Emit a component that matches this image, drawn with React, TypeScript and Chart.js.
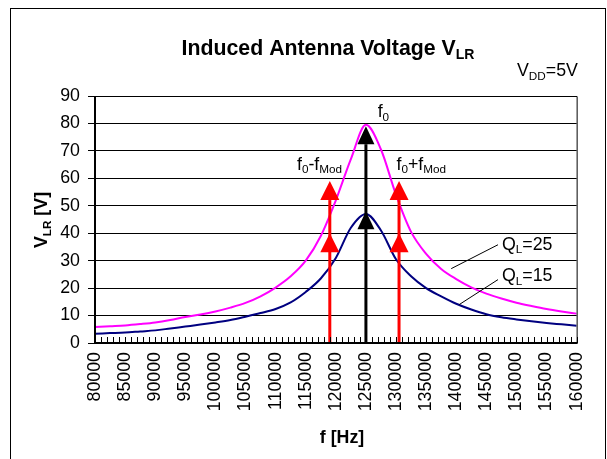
import React, { useEffect, useRef } from 'react';
import { Chart, registerables } from 'chart.js';

Chart.register(...registerables);

// ---- data ----
const freqs = [80000, 82500, 85000, 87500, 90000, 92500, 95000, 97500, 100000, 102500, 105000, 107500, 110000, 112500, 115000, 117500, 120000, 122500, 125000, 127500, 130000, 132500, 135000, 137500, 140000, 142500, 145000, 147500, 150000, 152500, 155000, 157500, 160000];
const voltQ25 = [5.8, 6.1, 6.4, 6.9, 7.5, 8.4, 9.5, 10.4, 11.5, 12.9, 14.6, 17.0, 20.2, 24.3, 30, 39, 52, 67, 79.5, 70.5, 54, 40.5, 32.5, 27, 23.3, 20.3, 18, 16.2, 14.7, 13.5, 12.4, 11.5, 10.7];
const voltQ15 = [3.4, 3.6, 3.8, 4.2, 4.6, 5.3, 6.0, 6.7, 7.5, 8.4, 9.6, 10.9, 12.4, 14.8, 18.6, 23.5, 31, 42, 47, 41, 30.5, 24.3, 20, 17, 14.3, 12.2, 10.5, 9.4, 8.6, 7.9, 7.3, 6.8, 6.3];

const sidebandFreqs = [119000, 130500];
const sidebandTips = [59, 40];
const carrierFreqs = [125000];
const carrierTips = [79, 48];

const yTicksMin = 0;
const yTicksMax = 90;
const yStep = 10;
const xMin = 80000;
const xMax = 160000;
const xLabelStep = 5000;
const xMinorStep = 1000;

const FAM = "'Liberation Sans', Arial, Helvetica, sans-serif";
const F10 = 17.8;
const F12 = 21.3;

type Part = { t: string; sub?: boolean };

function drawRich(ctx: CanvasRenderingContext2D, parts: Part[], x: number, yCenter: number, size: number, bold: boolean, align: 'left' | 'center') {
  const main = `${bold ? 'bold ' : ''}${size}px ${FAM}`;
  const subSize = size * 0.66;
  const sub = `${bold ? 'bold ' : ''}${subSize}px ${FAM}`;
  const base = yCenter + size * 0.716 / 2;
  let w = 0;
  for (const p of parts) {
    ctx.font = p.sub ? sub : main;
    w += ctx.measureText(p.t).width;
  }
  let cx = align === 'center' ? x - w / 2 : x;
  ctx.textAlign = 'left';
  ctx.textBaseline = 'alphabetic';
  ctx.fillStyle = '#000';
  for (const p of parts) {
    ctx.font = p.sub ? sub : main;
    ctx.fillText(p.t, cx, p.sub ? base + size * 0.2 : base);
    cx += ctx.measureText(p.t).width;
  }
}

function drawArrow(ctx: CanvasRenderingContext2D, px: number, yBottom: number, tips: number[], color: string, headW: number, headH: number, lineW: number) {
  ctx.save();
  ctx.strokeStyle = color;
  ctx.fillStyle = color;
  ctx.lineWidth = lineW;
  const top = Math.min(...tips);
  ctx.beginPath();
  ctx.moveTo(px, yBottom);
  ctx.lineTo(px, top + headH);
  ctx.stroke();
  for (const t of tips) {
    ctx.beginPath();
    ctx.moveTo(px, t);
    ctx.lineTo(px - headW / 2, t + headH);
    ctx.lineTo(px + headW / 2, t + headH);
    ctx.closePath();
    ctx.fill();
  }
  ctx.restore();
}

const overlay = {
  id: 'overlay',
  afterDatasetsDraw(chart: any) {
    const { ctx, chartArea: a } = chart;
    const xs = chart.scales.x;
    const ys = chart.scales.y;
    ctx.save();

    // arrows
    sidebandFreqs.forEach((f) => {
      drawArrow(ctx, xs.getPixelForValue(f), a.bottom, sidebandTips.map((v) => ys.getPixelForValue(v)), '#FF0000', 19, 19, 3);
    });
    carrierFreqs.forEach((f) => {
      drawArrow(ctx, xs.getPixelForValue(f), a.bottom, carrierTips.map((v) => ys.getPixelForValue(v)), '#000000', 17, 18, 3);
    });

    // frame
    ctx.strokeStyle = '#000';
    ctx.lineWidth = 1;
    ctx.beginPath();
    ctx.moveTo(a.left, a.top + 0.5);
    ctx.lineTo(a.right + 0.5, a.top + 0.5);
    ctx.lineTo(a.right + 0.5, a.bottom);
    ctx.stroke();
    ctx.lineWidth = 2;
    ctx.beginPath();
    ctx.moveTo(a.left, a.top);
    ctx.lineTo(a.left, a.bottom);
    ctx.lineTo(a.right + 1, a.bottom);
    ctx.stroke();

    // inner minor ticks on x axis
    ctx.lineWidth = 1;
    ctx.beginPath();
    xs.ticks.forEach((t: any) => {
      const px = Math.round(xs.getPixelForValue(t.value)) + 0.5;
      ctx.moveTo(px, a.bottom);
      ctx.lineTo(px, a.bottom - 6);
    });
    ctx.stroke();

    // leader lines
    ctx.lineWidth = 1;
    ctx.beginPath();
    ctx.moveTo(xs.getPixelForValue(146940), ys.getPixelForValue(35.8));
    ctx.lineTo(xs.getPixelForValue(139170), ys.getPixelForValue(27.1));
    ctx.moveTo(xs.getPixelForValue(146940), ys.getPixelForValue(23.1));
    ctx.lineTo(xs.getPixelForValue(140500), ys.getPixelForValue(14.0));
    ctx.stroke();

    // annotations
    drawRich(ctx, [{ t: 'f' }, { t: '0', sub: true }], xs.getPixelForValue(127900), ys.getPixelForValue(84.5), F10, false, 'center');
    drawRich(ctx, [{ t: 'f' }, { t: '0', sub: true }, { t: '-f' }, { t: 'Mod', sub: true }], xs.getPixelForValue(117300), ys.getPixelForValue(65.5), F10, false, 'center');
    drawRich(ctx, [{ t: 'f' }, { t: '0', sub: true }, { t: '+f' }, { t: 'Mod', sub: true }], xs.getPixelForValue(134200), ys.getPixelForValue(65.5), F10, false, 'center');
    drawRich(ctx, [{ t: 'Q' }, { t: 'L', sub: true }, { t: '=25' }], xs.getPixelForValue(147600), ys.getPixelForValue(36.3), F10, false, 'left');
    drawRich(ctx, [{ t: 'Q' }, { t: 'L', sub: true }, { t: '=15' }], xs.getPixelForValue(147600), ys.getPixelForValue(24.9), F10, false, 'left');

    // titles
    drawRich(ctx, [{ t: 'Induced Antenna Voltage V' }, { t: 'LR', sub: true }], 328, 47, F12, true, 'center');
    drawRich(ctx, [{ t: 'V' }, { t: 'DD', sub: true }, { t: '=5V' }], 517, 70, F10, false, 'left');
    drawRich(ctx, [{ t: 'f [Hz]' }], 342, 437, F10, true, 'center');
    ctx.save();
    ctx.translate(41, 220);
    ctx.rotate(-Math.PI / 2);
    drawRich(ctx, [{ t: 'V' }, { t: 'LR', sub: true }, { t: ' [V]' }], 0, 0, F10, true, 'center');
    ctx.restore();

    // outer border
    ctx.lineWidth = 1;
    ctx.strokeStyle = '#000';
    ctx.strokeRect(10.5, 8.5, 595, 480);

    ctx.restore();
  },
};

export default function App() {
  const ref = useRef<HTMLCanvasElement | null>(null);
  useEffect(() => {
    if (!ref.current) return;
    const chart = new Chart(ref.current, {
      type: 'line',
      data: {
        datasets: [
          {
            label: 'QL=25',
            data: freqs.map((f, i) => ({ x: f, y: voltQ25[i] })),
            borderColor: '#FF00FF',
            borderWidth: 2,
            pointRadius: 0,
            cubicInterpolationMode: 'monotone',
            fill: false,
          },
          {
            label: 'QL=15',
            data: freqs.map((f, i) => ({ x: f, y: voltQ15[i] })),
            borderColor: '#000080',
            borderWidth: 2,
            pointRadius: 0,
            cubicInterpolationMode: 'monotone',
            fill: false,
          },
        ],
      },
      options: {
        responsive: false,
        animation: false,
        events: [],
        layout: { padding: { left: 0, top: 96, right: 28, bottom: 0 } },
        plugins: { legend: { display: false }, tooltip: { enabled: false }, title: { display: false } },
        scales: {
          x: {
            type: 'linear',
            min: xMin,
            max: xMax,
            grid: { display: false, drawTicks: false },
            border: { display: false },
            ticks: {
              stepSize: xMinorStep,
              autoSkip: false,
              minRotation: 90,
              maxRotation: 90,
              padding: 9,
              color: '#000',
              font: { family: FAM, size: F10 },
              callback: (v: any) => (Number(v) % xLabelStep === 0 ? String(v) : ''),
            },
            afterFit: (s: any) => {
              s.height = 116;
            },
          },
          y: {
            min: yTicksMin,
            max: yTicksMax,
            grid: { color: '#000', lineWidth: 1, drawTicks: true, tickLength: 7, tickColor: '#000' },
            border: { display: false },
            ticks: {
              stepSize: yStep,
              padding: 8,
              color: '#000',
              font: { family: FAM, size: F10 },
            },
            afterFit: (s: any) => {
              s.width = 95;
            },
          },
        },
      },
      plugins: [overlay],
    } as any);
    return () => chart.destroy();
  }, []);
  return (
    <div style={{ position: 'absolute', left: 0, top: 0, width: 607, height: 459, background: '#fff' }}>
      <canvas ref={ref} width={607} height={459} />
    </div>
  );
}
